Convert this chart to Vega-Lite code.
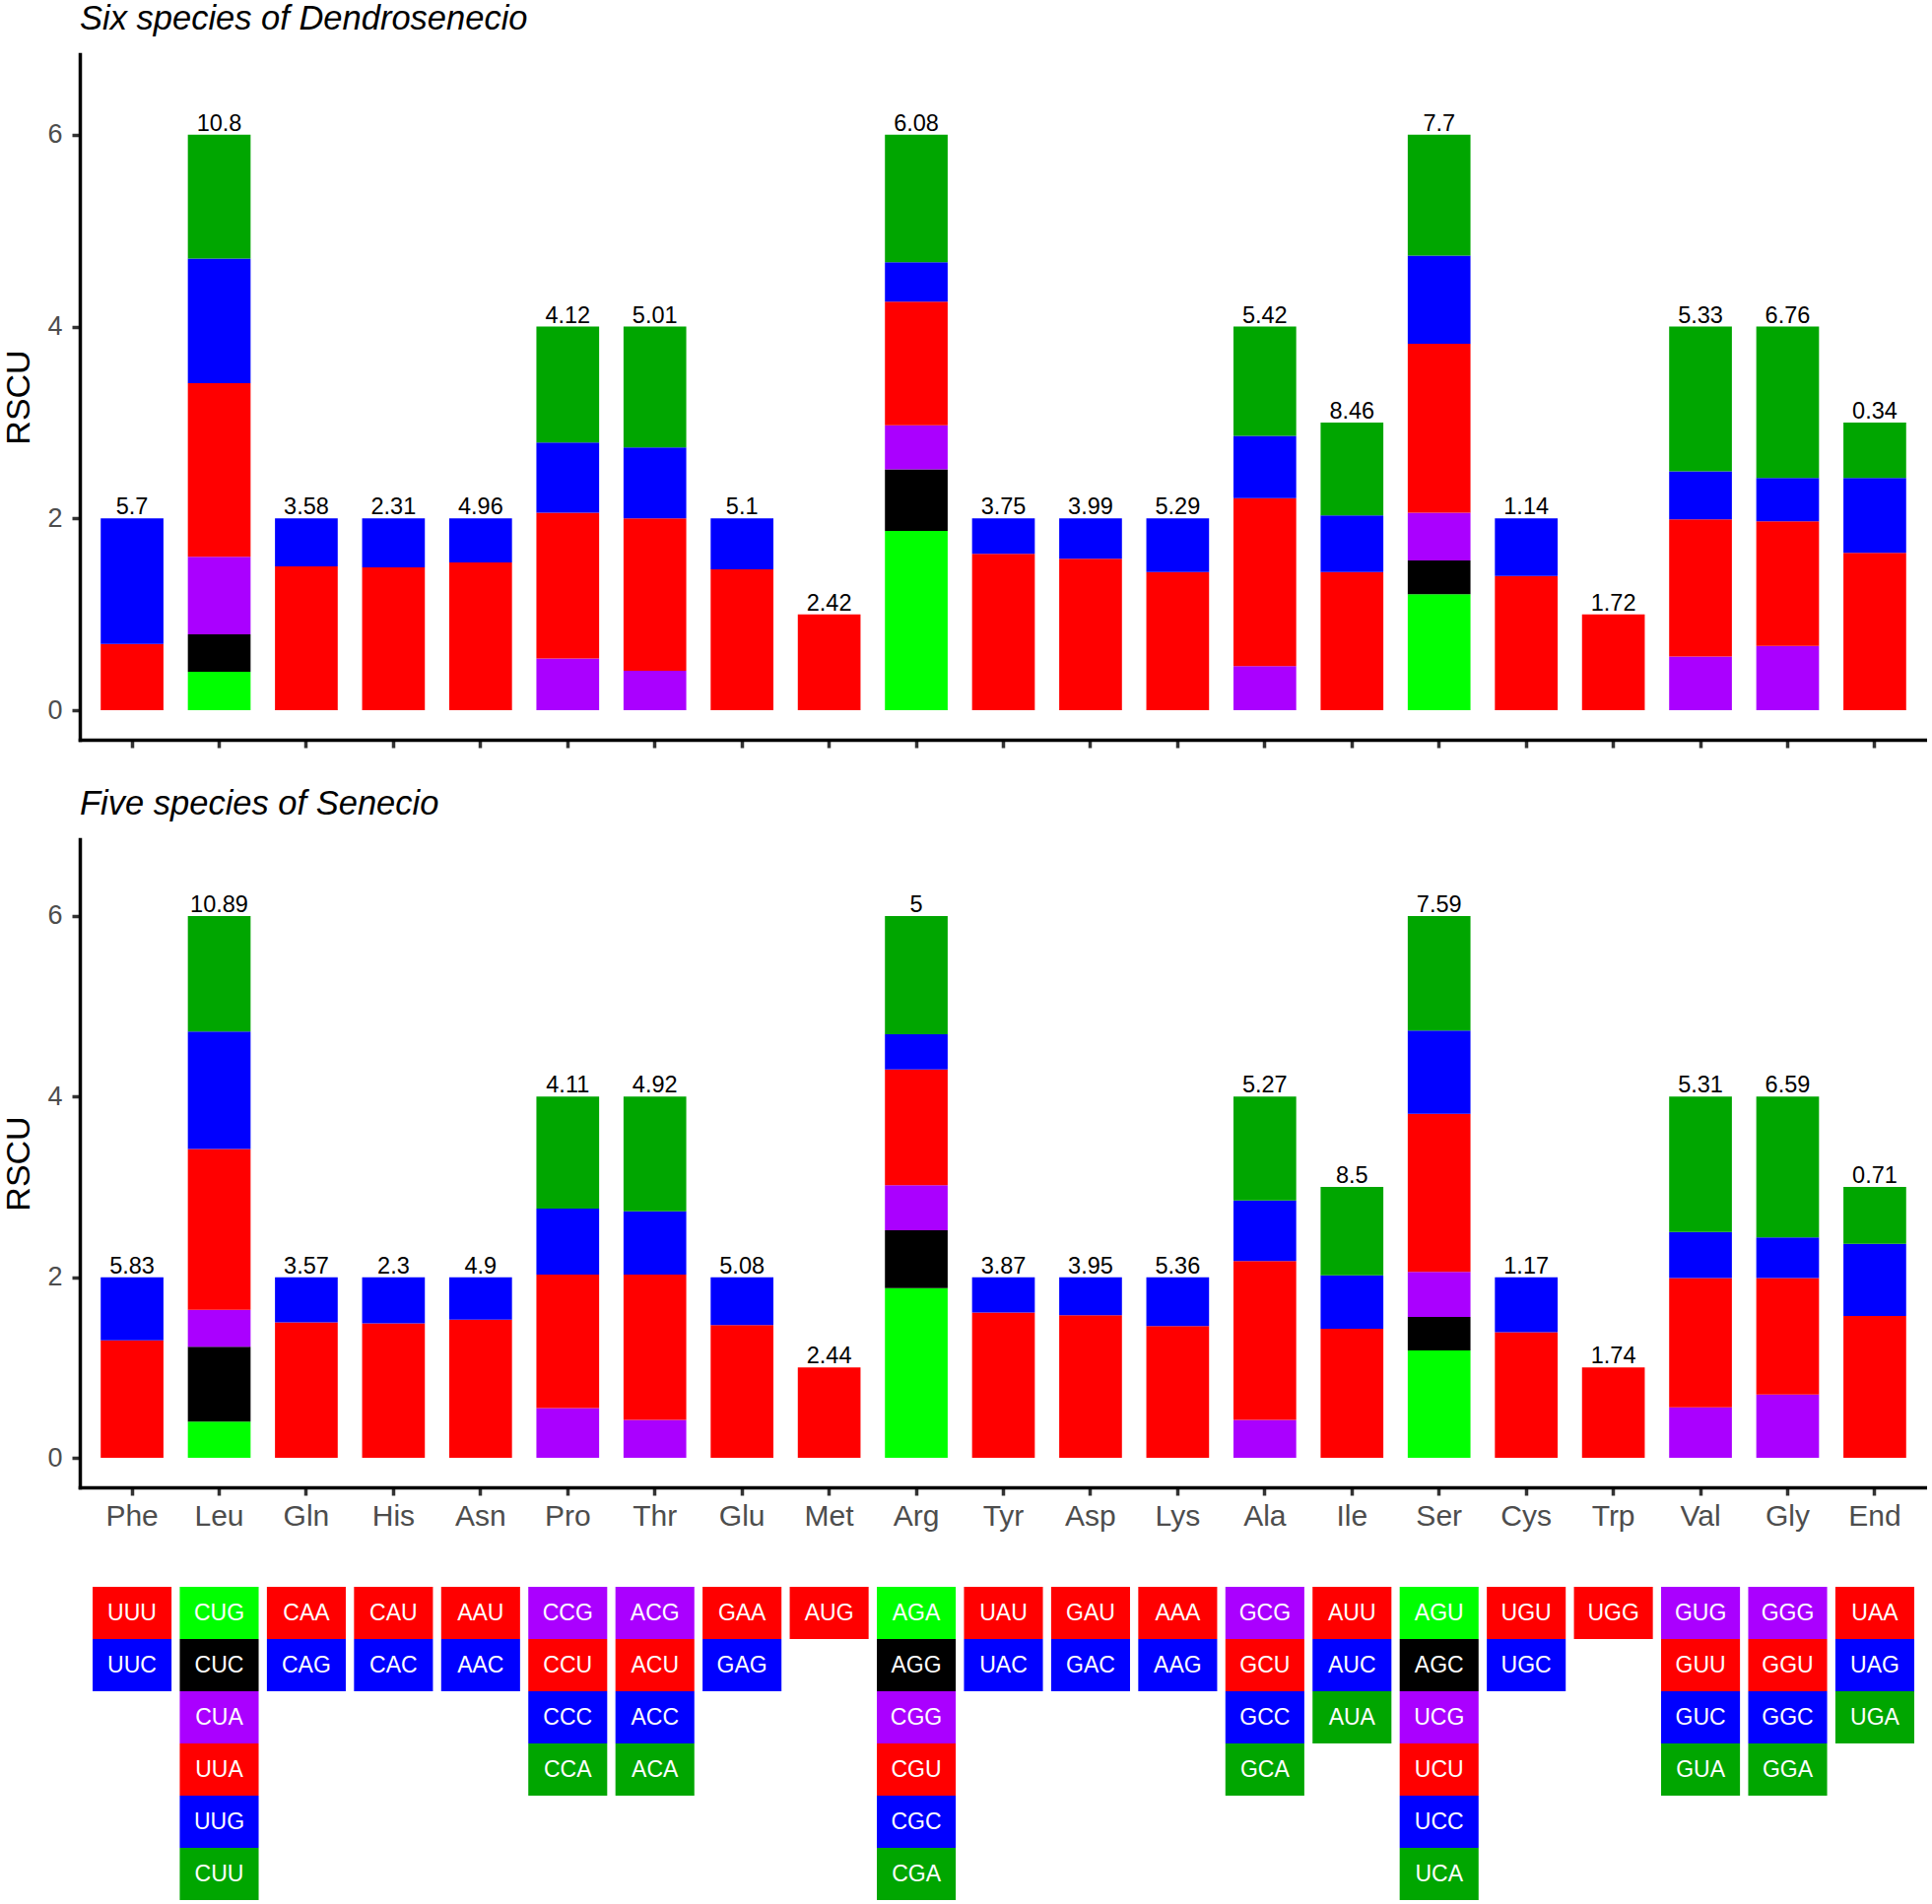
{
  "$schema": "https://vega.github.io/schema/vega-lite/v6.json",
  "background": "white",
  "padding": {"top": 1, "left": 2, "right": 0, "bottom": 0},
  "spacing": 37,
  "config": {
    "view": {"stroke": null},
    "font": "Liberation Sans",
    "axis": {
      "grid": false,
      "domainColor": "black",
      "domainWidth": 3.5,
      "domainCap": "square",
      "tickColor": "#333333",
      "tickWidth": 3.5,
      "tickSize": 8,
      "labelColor": "#4D4D4D",
      "labelFont": "Liberation Sans",
      "titleFont": "Liberation Sans",
      "titleFontWeight": "normal",
      "titleColor": "black"
    },
    "axisY": {"labelFontSize": 27, "labelPadding": 10, "titleFontSize": 34, "titlePadding": 11, "format": "d"},
    "axisX": {"labelFontSize": 30, "labelPadding": 6, "labelAngle": 0},
    "title": {"anchor": "start", "frame": "group", "fontStyle": "italic", "fontWeight": "normal", "fontSize": 34.5, "font": "Liberation Sans", "color": "black", "baseline": "alphabetic", "offset": 18}
  },
  "datasets": {
    "codons": [
      {"aa": "Phe", "codon": "UUU", "col": "R", "pos": 1, "d": 0.69, "s": 1.30},
      {"aa": "Phe", "codon": "UUC", "col": "B", "pos": 2, "d": 1.31, "s": 0.70},
      {"aa": "Leu", "codon": "CUG", "col": "LG", "pos": 1, "d": 0.40, "s": 0.40},
      {"aa": "Leu", "codon": "CUC", "col": "K", "pos": 2, "d": 0.39, "s": 0.83},
      {"aa": "Leu", "codon": "CUA", "col": "P", "pos": 3, "d": 0.81, "s": 0.41},
      {"aa": "Leu", "codon": "UUA", "col": "R", "pos": 4, "d": 1.81, "s": 1.78},
      {"aa": "Leu", "codon": "UUG", "col": "B", "pos": 5, "d": 1.30, "s": 1.30},
      {"aa": "Leu", "codon": "CUU", "col": "DG", "pos": 6, "d": 1.29, "s": 1.28},
      {"aa": "Gln", "codon": "CAA", "col": "R", "pos": 1, "d": 1.50, "s": 1.50},
      {"aa": "Gln", "codon": "CAG", "col": "B", "pos": 2, "d": 0.50, "s": 0.50},
      {"aa": "His", "codon": "CAU", "col": "R", "pos": 1, "d": 1.49, "s": 1.49},
      {"aa": "His", "codon": "CAC", "col": "B", "pos": 2, "d": 0.51, "s": 0.51},
      {"aa": "Asn", "codon": "AAU", "col": "R", "pos": 1, "d": 1.54, "s": 1.53},
      {"aa": "Asn", "codon": "AAC", "col": "B", "pos": 2, "d": 0.46, "s": 0.47},
      {"aa": "Pro", "codon": "CCG", "col": "P", "pos": 1, "d": 0.54, "s": 0.55},
      {"aa": "Pro", "codon": "CCU", "col": "R", "pos": 2, "d": 1.52, "s": 1.48},
      {"aa": "Pro", "codon": "CCC", "col": "B", "pos": 3, "d": 0.73, "s": 0.73},
      {"aa": "Pro", "codon": "CCA", "col": "DG", "pos": 4, "d": 1.21, "s": 1.24},
      {"aa": "Thr", "codon": "ACG", "col": "P", "pos": 1, "d": 0.41, "s": 0.42},
      {"aa": "Thr", "codon": "ACU", "col": "R", "pos": 2, "d": 1.59, "s": 1.61},
      {"aa": "Thr", "codon": "ACC", "col": "B", "pos": 3, "d": 0.74, "s": 0.70},
      {"aa": "Thr", "codon": "ACA", "col": "DG", "pos": 4, "d": 1.26, "s": 1.27},
      {"aa": "Glu", "codon": "GAA", "col": "R", "pos": 1, "d": 1.47, "s": 1.47},
      {"aa": "Glu", "codon": "GAG", "col": "B", "pos": 2, "d": 0.53, "s": 0.53},
      {"aa": "Met", "codon": "AUG", "col": "R", "pos": 1, "d": 1.00, "s": 1.00},
      {"aa": "Arg", "codon": "AGA", "col": "LG", "pos": 1, "d": 1.87, "s": 1.88},
      {"aa": "Arg", "codon": "AGG", "col": "K", "pos": 2, "d": 0.64, "s": 0.64},
      {"aa": "Arg", "codon": "CGG", "col": "P", "pos": 3, "d": 0.46, "s": 0.50},
      {"aa": "Arg", "codon": "CGU", "col": "R", "pos": 4, "d": 1.29, "s": 1.28},
      {"aa": "Arg", "codon": "CGC", "col": "B", "pos": 5, "d": 0.41, "s": 0.39},
      {"aa": "Arg", "codon": "CGA", "col": "DG", "pos": 6, "d": 1.33, "s": 1.31},
      {"aa": "Tyr", "codon": "UAU", "col": "R", "pos": 1, "d": 1.63, "s": 1.61},
      {"aa": "Tyr", "codon": "UAC", "col": "B", "pos": 2, "d": 0.37, "s": 0.39},
      {"aa": "Asp", "codon": "GAU", "col": "R", "pos": 1, "d": 1.58, "s": 1.58},
      {"aa": "Asp", "codon": "GAC", "col": "B", "pos": 2, "d": 0.42, "s": 0.42},
      {"aa": "Lys", "codon": "AAA", "col": "R", "pos": 1, "d": 1.44, "s": 1.46},
      {"aa": "Lys", "codon": "AAG", "col": "B", "pos": 2, "d": 0.56, "s": 0.54},
      {"aa": "Ala", "codon": "GCG", "col": "P", "pos": 1, "d": 0.46, "s": 0.42},
      {"aa": "Ala", "codon": "GCU", "col": "R", "pos": 2, "d": 1.75, "s": 1.76},
      {"aa": "Ala", "codon": "GCC", "col": "B", "pos": 3, "d": 0.65, "s": 0.67},
      {"aa": "Ala", "codon": "GCA", "col": "DG", "pos": 4, "d": 1.14, "s": 1.15},
      {"aa": "Ile", "codon": "AUU", "col": "R", "pos": 1, "d": 1.44, "s": 1.43},
      {"aa": "Ile", "codon": "AUC", "col": "B", "pos": 2, "d": 0.59, "s": 0.59},
      {"aa": "Ile", "codon": "AUA", "col": "DG", "pos": 3, "d": 0.97, "s": 0.98},
      {"aa": "Ser", "codon": "AGU", "col": "LG", "pos": 1, "d": 1.21, "s": 1.19},
      {"aa": "Ser", "codon": "AGC", "col": "K", "pos": 2, "d": 0.35, "s": 0.37},
      {"aa": "Ser", "codon": "UCG", "col": "P", "pos": 3, "d": 0.50, "s": 0.50},
      {"aa": "Ser", "codon": "UCU", "col": "R", "pos": 4, "d": 1.76, "s": 1.75},
      {"aa": "Ser", "codon": "UCC", "col": "B", "pos": 5, "d": 0.92, "s": 0.92},
      {"aa": "Ser", "codon": "UCA", "col": "DG", "pos": 6, "d": 1.26, "s": 1.27},
      {"aa": "Cys", "codon": "UGU", "col": "R", "pos": 1, "d": 1.40, "s": 1.39},
      {"aa": "Cys", "codon": "UGC", "col": "B", "pos": 2, "d": 0.60, "s": 0.61},
      {"aa": "Trp", "codon": "UGG", "col": "R", "pos": 1, "d": 1.00, "s": 1.00},
      {"aa": "Val", "codon": "GUG", "col": "P", "pos": 1, "d": 0.56, "s": 0.56},
      {"aa": "Val", "codon": "GUU", "col": "R", "pos": 2, "d": 1.43, "s": 1.43},
      {"aa": "Val", "codon": "GUC", "col": "B", "pos": 3, "d": 0.50, "s": 0.51},
      {"aa": "Val", "codon": "GUA", "col": "DG", "pos": 4, "d": 1.51, "s": 1.50},
      {"aa": "Gly", "codon": "GGG", "col": "P", "pos": 1, "d": 0.67, "s": 0.70},
      {"aa": "Gly", "codon": "GGU", "col": "R", "pos": 2, "d": 1.30, "s": 1.29},
      {"aa": "Gly", "codon": "GGC", "col": "B", "pos": 3, "d": 0.45, "s": 0.45},
      {"aa": "Gly", "codon": "GGA", "col": "DG", "pos": 4, "d": 1.58, "s": 1.56},
      {"aa": "End", "codon": "UAA", "col": "R", "pos": 1, "d": 1.64, "s": 1.57},
      {"aa": "End", "codon": "UAG", "col": "B", "pos": 2, "d": 0.78, "s": 0.80},
      {"aa": "End", "codon": "UGA", "col": "DG", "pos": 3, "d": 0.58, "s": 0.63}
    ],
    "labs": [
      {"aa": "Phe", "top": 2, "dl": "5.7", "sl": "5.83"},
      {"aa": "Leu", "top": 6, "dl": "10.8", "sl": "10.89"},
      {"aa": "Gln", "top": 2, "dl": "3.58", "sl": "3.57"},
      {"aa": "His", "top": 2, "dl": "2.31", "sl": "2.3"},
      {"aa": "Asn", "top": 2, "dl": "4.96", "sl": "4.9"},
      {"aa": "Pro", "top": 4, "dl": "4.12", "sl": "4.11"},
      {"aa": "Thr", "top": 4, "dl": "5.01", "sl": "4.92"},
      {"aa": "Glu", "top": 2, "dl": "5.1", "sl": "5.08"},
      {"aa": "Met", "top": 1, "dl": "2.42", "sl": "2.44"},
      {"aa": "Arg", "top": 6, "dl": "6.08", "sl": "5"},
      {"aa": "Tyr", "top": 2, "dl": "3.75", "sl": "3.87"},
      {"aa": "Asp", "top": 2, "dl": "3.99", "sl": "3.95"},
      {"aa": "Lys", "top": 2, "dl": "5.29", "sl": "5.36"},
      {"aa": "Ala", "top": 4, "dl": "5.42", "sl": "5.27"},
      {"aa": "Ile", "top": 3, "dl": "8.46", "sl": "8.5"},
      {"aa": "Ser", "top": 6, "dl": "7.7", "sl": "7.59"},
      {"aa": "Cys", "top": 2, "dl": "1.14", "sl": "1.17"},
      {"aa": "Trp", "top": 1, "dl": "1.72", "sl": "1.74"},
      {"aa": "Val", "top": 4, "dl": "5.33", "sl": "5.31"},
      {"aa": "Gly", "top": 4, "dl": "6.76", "sl": "6.59"},
      {"aa": "End", "top": 3, "dl": "0.34", "sl": "0.71"}
    ]
  },
  "vconcat": [
    {
      "width": 1875,
      "height": 696,
      "title": {"text": "Six species of Dendrosenecio"},
      "layer": [
        {
          "data": {"name": "codons"},
          "mark": {"type": "bar"},
          "encoding": {
            "x": {"field": "aa", "type": "nominal", "scale": {"domain": ["Phe","Leu","Gln","His","Asn","Pro","Thr","Glu","Met","Arg","Tyr","Asp","Lys","Ala","Ile","Ser","Cys","Trp","Val","Gly","End"], "paddingInner": 0.28, "paddingOuter": 0.24}, "axis": {"labels": false, "title": null}},
            "y": {"field": "d", "type": "quantitative", "stack": "zero", "scale": {"domain": [-0.308, 6.84], "nice": false, "zero": false}, "axis": {"values": [0, 2, 4, 6], "title": "RSCU"}},
            "color": {"field": "col", "type": "nominal", "scale": {"domain": ["LG","K","P","R","B","DG"], "range": ["#00FF00","#000000","#AA00FF","#FF0000","#0000FF","#00A600"]}, "legend": null},
            "order": {"field": "pos", "type": "quantitative"}
          }
        },
        {
          "data": {"name": "labs"},
          "mark": {"type": "text", "fontSize": 23.5, "color": "black", "baseline": "alphabetic", "dy": -4},
          "encoding": {
            "x": {"field": "aa", "type": "nominal"},
            "y": {"field": "top", "type": "quantitative", "title": "RSCU"},
            "text": {"field": "dl"}
          }
        }
      ]
    },
    {
      "width": 1875,
      "height": 658,
      "title": {"text": "Five species of Senecio"},
      "layer": [
        {
          "data": {"name": "codons"},
          "mark": {"type": "bar"},
          "encoding": {
            "x": {"field": "aa", "type": "nominal", "scale": {"domain": ["Phe","Leu","Gln","His","Asn","Pro","Thr","Glu","Met","Arg","Tyr","Asp","Lys","Ala","Ile","Ser","Cys","Trp","Val","Gly","End"], "paddingInner": 0.28, "paddingOuter": 0.24}, "axis": {"title": null}},
            "y": {"field": "s", "type": "quantitative", "stack": "zero", "scale": {"domain": [-0.327, 6.85], "nice": false, "zero": false}, "axis": {"values": [0, 2, 4, 6], "title": "RSCU"}},
            "color": {"field": "col", "type": "nominal", "scale": {"domain": ["LG","K","P","R","B","DG"], "range": ["#00FF00","#000000","#AA00FF","#FF0000","#0000FF","#00A600"]}, "legend": null},
            "order": {"field": "pos", "type": "quantitative"}
          }
        },
        {
          "data": {"name": "labs"},
          "mark": {"type": "text", "fontSize": 23.5, "color": "black", "baseline": "alphabetic", "dy": -4},
          "encoding": {
            "x": {"field": "aa", "type": "nominal"},
            "y": {"field": "top", "type": "quantitative", "title": "RSCU"},
            "text": {"field": "sl"}
          }
        }
      ]
    },
    {
      "width": 1875,
      "height": 338,
      "data": {"name": "codons"},
      "encoding": {
        "x": {"field": "aa", "type": "nominal", "scale": {"domain": ["Phe","Leu","Gln","His","Asn","Pro","Thr","Glu","Met","Arg","Tyr","Asp","Lys","Ala","Ile","Ser","Cys","Trp","Val","Gly","End"], "paddingInner": 0.0945, "paddingOuter": 0.147}, "axis": null},
        "y": {"field": "pos", "type": "ordinal", "scale": {"domain": [1, 2, 3, 4, 5, 6], "paddingInner": 0, "paddingOuter": 0.1887, "align": 1}, "axis": null}
      },
      "layer": [
        {
          "mark": {"type": "rect"},
          "encoding": {
            "color": {"field": "col", "type": "nominal", "scale": {"domain": ["LG","K","P","R","B","DG"], "range": ["#00FF00","#000000","#AA00FF","#FF0000","#0000FF","#00A600"]}, "legend": null}
          }
        },
        {
          "mark": {"type": "text", "fontSize": 23, "color": "white", "align": "center", "baseline": "middle"},
          "encoding": {"text": {"field": "codon"}}
        }
      ]
    }
  ]
}
